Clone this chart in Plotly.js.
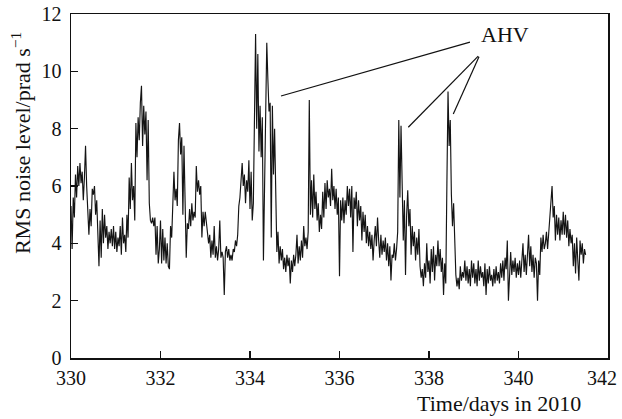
<!DOCTYPE html>
<html>
<head>
<meta charset="utf-8">
<script src="https://cdn.plot.ly/plotly-3.0.1.min.js"></script>
<style>html,body{margin:0;padding:0;background:#fff;}#chart{width:622px;height:419px;}</style>
</head>
<body>
<div id="chart"></div>
<script>
// Sampling grid of the record (days in 2010)
const startDay = 330;
const stepDays = 0.025;

// RMS noise level (prad s^-1), one value per sample
const rmsNoise = [
  5.3, 3.8, 5.6, 4.9,  6.4, 5.6, 6.7, 6.0,  6.8, 6.1, 6.5, 5.5,  6.3, 7.4, 6.0, 4.8,
  4.3, 5.2, 4.6, 5.9,  5.7, 6.0, 5.0, 5.5,  4.5, 3.2, 4.8, 3.5,  5.2, 4.0, 5.0, 4.2,
  4.6, 3.8, 4.4, 4.0,  4.5, 3.9, 4.6, 3.8,
  4.4, 3.7, 4.2, 3.9,  4.6, 3.6, 4.9, 4.0,  4.3, 3.7, 5.0, 4.2,  6.3, 5.2, 6.8, 5.5,
  6.0, 4.8, 8.2, 7.0,  8.4, 7.6, 8.9, 9.5,  7.4, 8.8, 7.8, 8.6,  6.2, 8.3, 5.4, 4.8,
  4.7, 4.9, 4.6, 4.9,  3.6, 4.6, 3.3, 3.8,
  4.8, 3.3, 4.5, 3.4,  4.2, 3.3, 4.0, 3.2,  3.1, 4.6, 4.2, 5.3,  6.5, 5.5, 5.9, 5.3,
  7.6, 8.2, 7.1, 7.7,  5.0, 7.4, 4.8, 3.5,  4.7, 4.5, 5.2, 4.6,  5.4, 4.8, 5.1, 4.9,
  6.7, 5.8, 6.2, 5.7,  6.0, 4.2, 5.1, 4.6,
  5.1, 4.8, 4.4, 4.0,  4.3, 3.5, 4.1, 3.6,  4.6, 3.5, 3.9, 3.4,  3.8, 4.8, 3.5, 3.7,
  3.5, 2.2, 3.7, 3.9,  3.5, 3.8, 3.4, 3.6,  3.4, 3.8, 3.7, 4.1,  3.9, 4.3, 5.3, 5.6,
  6.2, 6.8, 6.0, 6.4,  5.4, 6.2, 5.8, 6.9,
  5.2, 6.5, 4.8, 5.4,  8.4, 11.3, 8.0, 10.6,  7.2, 8.8, 7.0, 8.4,  3.4, 5.5, 9.0, 11.0,
  9.7, 8.6, 8.9, 4.2,  8.8, 6.4, 8.0, 5.0,  3.7, 4.4, 3.3, 3.9,  3.4, 3.8, 3.1, 3.5,
  3.0, 3.6, 3.2, 3.5,  2.6, 3.4, 3.0, 3.6,
  3.2, 3.6, 4.3, 3.3,  3.9, 3.4, 4.1, 3.5,  4.6, 3.9, 4.2, 3.8,  4.4, 9.0, 5.0, 6.2,
  4.9, 6.4, 5.2, 5.8,  4.8, 5.4, 4.4, 5.0,  4.5, 5.8, 4.9, 6.1,  5.2, 6.2, 5.6, 5.9,
  5.3, 6.6, 5.5, 6.0,  5.2, 5.9, 5.0, 5.6,
  2.85, 5.5, 4.8, 5.6,  4.7, 5.5, 5.0, 6.0,  5.3, 5.9, 4.9, 6.0,  3.7, 5.6, 5.2, 5.8,
  4.6, 5.5, 4.8, 5.3,  4.1, 5.1, 4.4, 5.0,  4.0, 4.6, 3.9, 4.4,  3.8, 4.3, 3.4, 4.1,
  4.6, 3.9, 4.9, 4.1,  3.5, 4.3, 3.6, 4.1,
  3.7, 4.2, 3.4, 4.0,  3.2, 3.9, 2.7, 3.6,  3.5, 4.0, 3.4, 3.8,  4.4, 8.3, 5.6, 8.1,
  6.0, 4.1, 5.5, 2.9,  5.0, 5.85, 4.6, 5.2,  3.6, 4.6, 3.9, 4.4,  3.4, 4.2, 3.6, 4.5,
  3.2, 2.8, 3.1, 2.5,  3.3, 2.8, 4.0, 3.0,
  3.4, 2.6, 3.8, 3.0,  3.9, 2.7, 3.6, 3.2,  4.1, 3.2, 3.8, 3.0,  3.5, 2.2, 3.3, 2.6,
  6.1, 9.3, 7.4, 8.3,  5.7, 4.6, 5.4, 3.6,  2.9, 2.5, 2.8, 2.4,  3.2, 2.7, 3.0, 2.8,
  3.4, 2.7, 3.2, 2.6,  3.1, 2.5, 3.4, 2.8,
  3.3, 2.6, 3.1, 2.5,  3.4, 2.7, 3.2, 2.8,  3.0, 2.5, 3.3, 2.2,  3.1, 2.6, 3.2, 2.7,
  2.9, 2.5, 3.1, 2.6,  3.2, 2.7, 3.0, 2.6,  3.3, 2.8, 3.4, 2.7,  3.5, 3.1, 4.1, 2.0,
  3.1, 3.7, 2.9, 3.4,  3.0, 3.5, 2.8, 3.3,
  2.9, 3.4, 2.8, 3.3,  4.0, 3.0, 3.6, 2.9,  3.5, 4.3, 3.2, 3.9,  3.0, 3.6, 2.8, 3.5,
  3.3, 2.0, 3.4, 2.9,  4.2, 3.7, 4.3, 3.8,  4.0, 4.4, 3.8, 4.3,  4.8, 5.4, 6.0, 4.9,
  5.3, 4.1, 5.0, 4.3,  4.9, 4.1, 4.8, 4.3,
  5.1, 4.3, 5.0, 4.2,  4.8, 3.9, 4.5, 4.0,  4.3, 3.2, 4.0, 2.95,  4.2, 3.4, 2.7, 4.1,
  3.6, 4.0, 3.3, 3.8,  3.6
];

// Axis ticks
const xTickVals = [330, 332, 334, 336, 338, 340];
const xTickText = ['330', '332', '334', '336', '338', '340'];
const xLastTick = '342';
const yTickVals = [0, 2, 4, 6, 8, 10, 12];

// Labels
const xTitle = 'Time/days in 2010';
const yTitle = 'RMS noise level/prad s<sup>\u22121</sup>';
const calloutText = 'AHV';
// Callout leader lines: [x from, y from, x to, y to] in data units
const calloutLines = [
  [338.916, 11.02, 334.693, 9.14],
  [339.10, 10.53, 337.537, 8.05],
  [339.117, 10.51, 338.543, 8.51]
];
const calloutPos = [339.70, 11.28];

const FONT = 'Liberation Serif';
const INK = '#111111';

const trace = {
  type: 'scatter',
  mode: 'lines',
  x0: startDay,
  dx: stepDays,
  y: rmsNoise,
  line: {color: '#141414', width: 1.15},
  hoverinfo: 'skip'
};

const axisCommon = {
  showgrid: false,
  zeroline: false,
  showline: true,
  linecolor: INK,
  linewidth: 1.5,
  mirror: true,
  ticks: 'inside',
  ticklen: 7,
  tickwidth: 1.5,
  tickcolor: INK,
  tickfont: {family: FONT, size: 20, color: INK},
  automargin: false
};

const shapes = calloutLines.map(l => ({
  type: 'line', xref: 'x', yref: 'y',
  x0: l[0], y0: l[1], x1: l[2], y1: l[3],
  line: {color: INK, width: 1.2}
}));

const layout = {
  width: 622,
  height: 419,
  margin: {l: 71, r: 14, t: 14, b: 61},
  paper_bgcolor: '#ffffff',
  plot_bgcolor: '#ffffff',
  showlegend: false,
  xaxis: Object.assign({}, axisCommon, {
    range: [330, 342],
    tickmode: 'array',
    tickvals: xTickVals,
    ticktext: xTickText,
    ticklabelstandoff: 1
  }),
  yaxis: Object.assign({}, axisCommon, {
    range: [0, 12],
    tickmode: 'array',
    tickvals: yTickVals,
    ticklabelstandoff: 4
  }),
  shapes: shapes,
  annotations: [
    {text: yTitle, xref: 'paper', yref: 'paper', x: -0.093, y: 0.625,
     xanchor: 'center', yanchor: 'middle', textangle: -90, showarrow: false,
     font: {family: FONT, size: 22, color: INK}},
    {text: xTitle, xref: 'paper', yref: 'paper', x: 0.797, y: -0.131,
     xanchor: 'center', yanchor: 'middle', showarrow: false,
     font: {family: FONT, size: 22, color: INK}},
    {text: xLastTick, xref: 'paper', yref: 'paper', x: 0.989, y: -0.058,
     xanchor: 'center', yanchor: 'middle', showarrow: false,
     font: {family: FONT, size: 20, color: INK}},
    {text: calloutText, xref: 'x', yref: 'y', x: calloutPos[0], y: calloutPos[1],
     xanchor: 'center', yanchor: 'middle', showarrow: false,
     font: {family: FONT, size: 22, color: INK}}
  ]
};

Plotly.newPlot('chart', [trace], layout, {staticPlot: true, displayModeBar: false});
</script>
</body>
</html>
